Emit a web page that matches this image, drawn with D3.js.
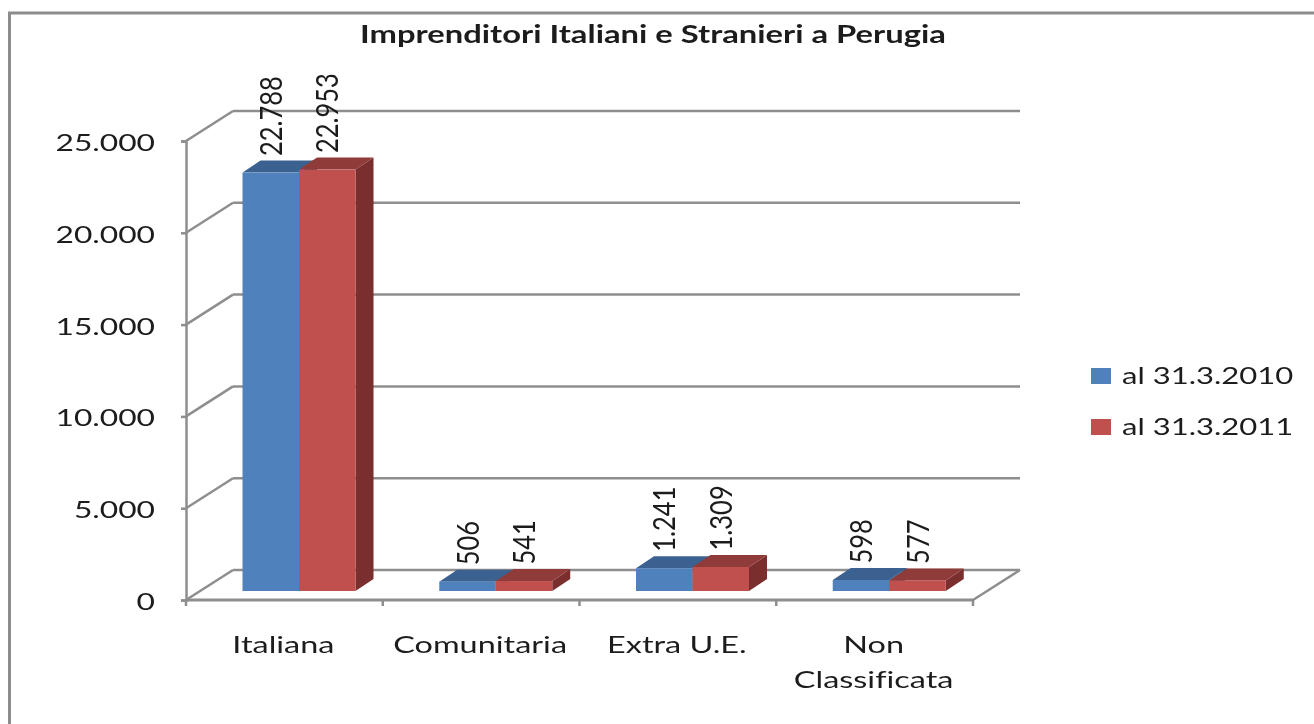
<!DOCTYPE html>
<html><head><meta charset="utf-8">
<script src="https://cdn.jsdelivr.net/npm/d3@7"></script>
<style>html,body{margin:0;padding:0;background:#fff}svg{display:block;filter:blur(.5px)}text{font-family:Lato,"Open Sans",sans-serif;fill:#1c1c1c;font-variant-ligatures:none}</style>
</head><body><svg id="c" width="1314" height="724"></svg>
<script>
const title = "Imprenditori Italiani e Stranieri a Perugia";
const categories = ["Italiana","Comunitaria","Extra U.E.","Non Classificata"];
const seriesNames = ["al 31.3.2010","al 31.3.2011"];
const values2010 = [22788,506,1241,598];
const values2011 = [22953,541,1309,577];
const yTicks = [0,5000,10000,15000,20000,25000];
const colors = [
  {front:"#4f81bd",top:"#3b6190",side:"#2f4f78"},
  {front:"#c0504d",top:"#8f3b39",side:"#7a2f2e"}];

const svg = d3.select("#c");
const fmt = d3.formatLocale({decimal:",",thousands:".",grouping:[3],currency:["",""]}).format(",d");
const x = d3.scaleBand().domain(categories).range([186,973]);
const y = d3.scaleLinear().domain([0,25000]).range([600,141]);
const sub = d3.scaleBand().domain([0,1]).range([56.5,169.5]);
const wall = {dx:47,dy:-30}, depth = {dx:18,dy:-12}, baseShift = 9;
const grey = "#8e8e8e";
const line = (a,b,c,d,w=2.5)=>svg.append("line").attr("x1",a).attr("y1",b).attr("x2",c).attr("y2",d).attr("stroke",grey).attr("stroke-width",w);

// frame
svg.append("path").attr("d","M9.5 724V13H1314").attr("fill","none").attr("stroke","#8c8c8c").attr("stroke-width",3);

// title
svg.append("text").attr("transform","translate(653,43) scale(1.31,1)").attr("text-anchor","middle")
  .attr("font-size",25).attr("font-weight",700).attr("fill","#111").text(title);

// grid + wall
yTicks.forEach(t=>{
  line(186,y(t),186+wall.dx,y(t)+wall.dy);
  line(186+wall.dx,y(t)+wall.dy,973+wall.dx,y(t)+wall.dy);
});
line(973,600,973+wall.dx,600+wall.dy);
line(186,600,973,600,3);

// y axis
const gy = svg.append("g").attr("transform","translate(186,0)").call(d3.axisLeft(y).tickValues(yTicks).tickSize(5).tickFormat(fmt));
gy.selectAll("path,line").attr("stroke",grey).attr("stroke-width",2.5);
gy.selectAll("text").attr("x",0).attr("dy",null).attr("text-anchor","end").attr("font-size",23).attr("fill","#222")
  .style("font-family",'Lato,sans-serif')
  .attr("transform","translate(-31,9.5) scale(1.38,1)");

// x ticks
categories.concat(["end"]).forEach((c,i)=>{
  const px = c==="end" ? x.range()[1] : x(c);
  line(px,600,px,606,2.5);
});

// bars
[values2010,values2011].forEach((vals,s)=>{
  const col = colors[s];
  vals.forEach((v,i)=>{
    const cx = x(categories[i]);
    const x0 = cx+sub(s), w = sub.bandwidth();
    const yb = y(0)-baseShift, yt = yb-(y(0)-y(v));
    const g = svg.append("g");
    g.append("polygon").attr("fill",col.side).attr("points",[[x0+w,yb],[x0+w+depth.dx,yb+depth.dy],[x0+w+depth.dx,yt+depth.dy],[x0+w,yt]].join(" "));
    g.append("polygon").attr("fill",col.top).attr("points",[[x0,yt],[x0+depth.dx,yt+depth.dy],[x0+w+depth.dx,yt+depth.dy],[x0+w,yt]].join(" "));
    g.append("rect").attr("x",x0).attr("y",yt).attr("width",w).attr("height",yb-yt).attr("fill",col.front);
    svg.append("text").attr("font-size",30).attr("fill","#222")
      .attr("transform",`translate(${x0+w/2+11},${yt-16.5}) rotate(-90) scale(.85,1)`).text(fmt(v));
  });
});

// category labels
const catLines = c=>c==="Non Classificata"?["Non","Classificata"]:[c];
categories.forEach(c=>{
  catLines(c).forEach((t,i)=>{
    svg.append("text").attr("text-anchor","middle").attr("font-size",23).attr("fill","#222")
      .attr("transform",`translate(${x(c)+x.bandwidth()/2-(i===0&&c==="Non Classificata"?0:0)-1},${653+i*35}) scale(1.41,1)`).text(t);
  });
});

// legend
seriesNames.forEach((n,i)=>{
  const ly = 368+i*51;
  svg.append("rect").attr("x",1091).attr("y",ly).attr("width",20).attr("height",16).attr("fill",colors[i].front);
  svg.append("text").attr("font-size",23).attr("fill","#222")
    .attr("transform",`translate(1122,${ly+16}) scale(1.35,1)`).text(n);
});
</script></body></html>
